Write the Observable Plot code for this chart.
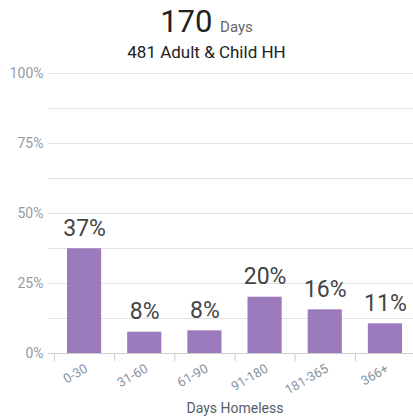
<!DOCTYPE html>
<html>
<head>
<meta charset="utf-8">
<script src="https://cdn.jsdelivr.net/npm/d3@7"></script>
<script src="https://cdn.jsdelivr.net/npm/@observablehq/plot@0.6"></script>
<style>
  body { margin: 0; background: #fff; font-family: Roboto, sans-serif; }
  #wrap { position: relative; width: 413px; height: 417px; overflow: hidden; }
  #t1 { position: absolute; top: 3.5px; left: 0; width: 413px; text-align: center; font-size: 31px; line-height: 36px; color: #222; }
  #t1 span { font-size: 15px; color: #666; }
  #t2 { position: absolute; top: 42px; left: 0; width: 413px; text-align: center; font-size: 17px; line-height: 20px; color: #222; }
  #chart { position: absolute; top: 60px; left: 0; }
</style>
</head>
<body>
<div id="wrap">
  <div id="t1">170 <span>Days</span></div>
  <div id="t2">481 Adult &amp; Child HH</div>
  <div id="chart"></div>
</div>
<script>
const categories = ["0-30", "31-60", "61-90", "91-180", "181-365", "366+"];
const values = [37.4, 7.6, 8.1, 20.1, 15.6, 10.6];
const valueLabels = ["37%", "8%", "8%", "20%", "16%", "11%"];
const yTicks = [0, 25, 50, 75, 100];
const gridLines = [12.5, 25, 37.5, 50, 62.5, 75, 87.5, 100];
const xTitle = "Days Homeless";

const data = categories.map((c, i) => ({cat: c, idx: i, value: values[i], label: valueLabels[i]}));
const boundaries = categories.map((c, i) => i);

const chart = Plot.plot({
  width: 413,
  height: 357,
  marginTop: 13,
  marginBottom: 64,
  marginLeft: 48,
  marginRight: 0,
  style: {fontFamily: "Roboto, sans-serif", fontSize: "14px", background: "#fff"},
  x: {type: "linear", domain: [0, categories.length], range: [54, 415]},
  y: {domain: [0, 100]},
  marks: [
    Plot.ruleY(gridLines, {stroke: "#e2e2e2", strokeWidth: 1}),
    Plot.rectY(data, {x1: d => d.idx, x2: d => d.idx + 1, y: "value", insetLeft: 13, insetRight: 13, fill: "#9b7bbe"}),
    Plot.ruleY([0], {stroke: "#cccccc"}),
    Plot.axisX({ticks: boundaries, tickSize: 8, tickFormat: () => "", stroke: "#cccccc", label: null}),
    Plot.axisY({ticks: yTicks, tickSize: 0, tickPadding: 5, tickFormat: d => d + "%", fill: "#949ba3", fontSize: 14, label: null}),
    Plot.text(data, {x: d => d.idx + 0.5, y: "value", text: "label", lineAnchor: "bottom", dy: -13, fontSize: 23, fill: "#444"}),
    Plot.text(data, {x: d => d.idx + 0.5, y: () => 0, text: "cat", rotate: -30, textAnchor: "end", lineAnchor: "middle", dy: 14, dx: 2, fontSize: 13, fill: "#8a949f"}),
    Plot.text([xTitle], {frameAnchor: "bottom", text: d => d, dx: 4, dy: 59, lineAnchor: "bottom", fontSize: 14, fill: "#555e68"})
  ]
});
document.getElementById("chart").appendChild(chart);
</script>
</body>
</html>
